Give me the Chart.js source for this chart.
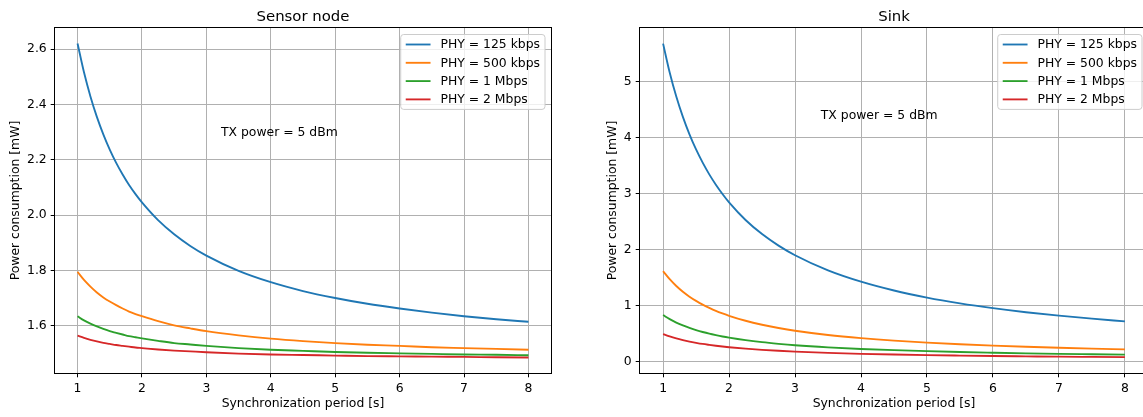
<!DOCTYPE html>
<html>
<head>
<meta charset="utf-8">
<title>Power consumption vs synchronization period</title>
<script src="https://cdn.jsdelivr.net/npm/chart.js@4/dist/chart.umd.min.js"></script>
<style>
  html, body { margin: 0; padding: 0; background: #fff; overflow: hidden; width: 1143px; height: 417px; }
  .panel { position: absolute; top: 0; width: 575px; height: 417px; }
  #left { left: 0; }
  #right { left: 585px; }
</style>
</head>
<body>
<div class="panel" id="left"><canvas id="nodeChart" width="575" height="417"></canvas></div>
<div class="panel" id="right"><canvas id="sinkChart" width="575" height="417"></canvas></div>
<script>
// synchronization period [s]
const periods = [1, 1.1, 1.2, 1.3, 1.4, 1.5, 1.6, 1.7, 1.8, 1.9, 2, 2.25, 2.5, 2.75, 3, 3.5, 4, 4.5, 5, 5.5, 6, 6.5, 7, 7.5, 8]
const phyLabels = ['PHY = 125 kbps', 'PHY = 500 kbps', 'PHY = 1 Mbps', 'PHY = 2 Mbps']
const phyColors = ['#1f77b4', '#ff7f0e', '#2ca02c', '#d62728']

// sensor node power [mW]
const node125k = [2.620, 2.516, 2.429, 2.355, 2.292, 2.237, 2.189, 2.147, 2.109, 2.076, 2.046, 1.982, 1.931, 1.889, 1.854, 1.799, 1.758, 1.726, 1.701, 1.680, 1.663, 1.648, 1.635, 1.624, 1.615]
const node500k = [1.795, 1.766, 1.742, 1.721, 1.703, 1.688, 1.675, 1.663, 1.652, 1.643, 1.635, 1.617, 1.602, 1.591, 1.581, 1.566, 1.554, 1.545, 1.538, 1.532, 1.528, 1.523, 1.520, 1.517, 1.514]
const node1M = [1.635, 1.620, 1.608, 1.598, 1.589, 1.581, 1.575, 1.569, 1.563, 1.559, 1.555, 1.546, 1.538, 1.533, 1.528, 1.520, 1.514, 1.510, 1.506, 1.503, 1.501, 1.499, 1.497, 1.496, 1.494]
const node2M = [1.565, 1.557, 1.550, 1.544, 1.539, 1.535, 1.531, 1.528, 1.525, 1.522, 1.520, 1.515, 1.511, 1.508, 1.505, 1.500, 1.497, 1.495, 1.493, 1.491, 1.490, 1.489, 1.488, 1.487, 1.486]

// sink power [mW]
const sink125k = [5.680, 5.164, 4.734, 4.370, 4.059, 3.788, 3.552, 3.343, 3.158, 2.992, 2.843, 2.527, 2.275, 2.069, 1.897, 1.626, 1.424, 1.266, 1.140, 1.037, 0.951, 0.878, 0.816, 0.762, 0.714]
const sink500k = [1.613, 1.468, 1.347, 1.244, 1.156, 1.080, 1.013, 0.955, 0.902, 0.856, 0.814, 0.725, 0.654, 0.596, 0.547, 0.471, 0.414, 0.369, 0.334, 0.305, 0.281, 0.260, 0.242, 0.227, 0.214]
const sink1M = [0.827, 0.754, 0.692, 0.641, 0.596, 0.558, 0.524, 0.494, 0.468, 0.444, 0.423, 0.378, 0.342, 0.313, 0.288, 0.250, 0.221, 0.199, 0.181, 0.166, 0.154, 0.143, 0.134, 0.127, 0.120]
const sink2M = [0.488, 0.445, 0.409, 0.379, 0.353, 0.331, 0.311, 0.294, 0.278, 0.264, 0.252, 0.226, 0.205, 0.188, 0.173, 0.151, 0.134, 0.121, 0.110, 0.102, 0.095, 0.089, 0.083, 0.079, 0.075]

const xTicks = [1, 2, 3, 4, 5, 6, 7, 8]
const nodeTicks = [1.6, 1.8, 2.0, 2.2, 2.4, 2.6]
const sinkTicks = [0, 1, 2, 3, 4, 5]

const FONT = 'DejaVu Sans'
Chart.defaults.font.family = FONT
Chart.defaults.font.size = 12.4
Chart.defaults.color = '#000'

// frame, title, in-axes legend and note, drawn matplotlib style
const mplDecor = {
  id: 'mplDecor',
  afterDatasetsDraw(chart, args, opts) {
    const { ctx, chartArea: a } = chart
    ctx.save()

    ctx.strokeStyle = '#000'
    ctx.lineWidth = 1
    ctx.strokeRect(Math.round(a.left) - 0.5, Math.round(a.top) - 0.5, Math.round(a.right - a.left) + 1, Math.round(a.bottom - a.top) + 1)

    ctx.fillStyle = '#000'
    ctx.font = '14.9px "' + FONT + '"'
    ctx.textAlign = 'center'
    ctx.textBaseline = 'alphabetic'
    ctx.fillText(opts.title, (a.left + a.right) / 2, 21)

    ctx.font = '12.4px "' + FONT + '"'
    ctx.textAlign = 'left'
    ctx.fillText(opts.note.text, chart.scales.x.getPixelForValue(opts.note.x), chart.scales.y.getPixelForValue(opts.note.y))

    // legend box
    const sets = chart.data.datasets
    const textW = Math.max(...sets.map(d => ctx.measureText(d.label).width))
    const pad = 5, handle = 24.8, gap = 9.9, pitch = 18.3
    const w = pad + handle + gap + textW + pad
    const h = 10 + pitch * (sets.length - 1) + 10
    const bx = a.right - 6 - w
    const by = a.top + 6.5
    ctx.beginPath()
    ctx.roundRect(bx, by, w, h, 3)
    ctx.fillStyle = 'rgba(255,255,255,0.8)'
    ctx.fill()
    ctx.strokeStyle = '#cccccc'
    ctx.stroke()
    ctx.textBaseline = 'middle'
    sets.forEach((d, i) => {
      const cy = by + 10 + i * pitch
      ctx.beginPath()
      ctx.moveTo(bx + pad, cy)
      ctx.lineTo(bx + pad + handle, cy)
      ctx.strokeStyle = d.borderColor
      ctx.lineWidth = 1.86
      ctx.stroke()
      ctx.fillStyle = '#000'
      ctx.fillText(d.label, bx + pad + handle + gap, cy + 0.5)
    })
    ctx.restore()
  }
}

function makeChart(id, series, yMin, yMax, yTicks, yFmt, yTitlePad, padRight, title, note) {
  return new Chart(document.getElementById(id), {
    type: 'line',
    data: {
      datasets: series.map((s, i) => ({
        label: phyLabels[i],
        data: periods.map((x, j) => ({ x: x, y: s[j] })),
        borderColor: phyColors[i],
        backgroundColor: phyColors[i],
        borderWidth: 1.86,
        pointRadius: 0,
        cubicInterpolationMode: 'monotone',
        fill: false
      }))
    },
    options: {
      responsive: false,
      animation: false,
      devicePixelRatio: 1,
      layout: { padding: { left: 0, right: padRight, top: 28, bottom: 0 } },
      plugins: {
        legend: { display: false },
        tooltip: { enabled: false },
        mplDecor: { title: title, note: note }
      },
      scales: {
        x: {
          type: 'linear',
          min: 0.65,
          max: 8.35,
          afterBuildTicks: s => { s.ticks = xTicks.map(v => ({ value: v })) },
          afterFit: s => { s.height = 44 },
          ticks: { padding: 4, callback: v => String(v), maxRotation: 0 },
          grid: { color: '#b0b0b0', lineWidth: 1, tickLength: 4.3, tickColor: '#000', tickWidth: 1 },
          border: { display: false },
          title: { display: true, text: 'Synchronization period [s]', padding: { top: 0, bottom: 5.5 } }
        },
        y: {
          type: 'linear',
          min: yMin,
          max: yMax,
          afterBuildTicks: s => { s.ticks = yTicks.map(v => ({ value: v })) },
          afterFit: s => { s.width = 55 },
          ticks: { padding: 4, callback: yFmt },
          grid: { color: '#b0b0b0', lineWidth: 1, tickLength: 4.3, tickColor: '#000', tickWidth: 1 },
          border: { display: false },
          title: { display: true, text: 'Power consumption [mW]', padding: { top: yTitlePad, bottom: 0 } }
        }
      }
    },
    plugins: [mplDecor]
  })
}

makeChart('nodeChart', [node125k, node500k, node1M, node2M], 1.430, 2.676, nodeTicks,
  v => v.toFixed(1), 8, 24, 'Sensor node', { text: 'TX power = 5 dBm', x: 3.227, y: 2.287 })

makeChart('sinkChart', [sink125k, sink500k, sink1M, sink2M], -0.209, 5.96, sinkTicks,
  v => String(v), 20, 12, 'Sink', { text: 'TX power = 5 dBm', x: 3.39, y: 4.34 })
</script>
</body>
</html>
